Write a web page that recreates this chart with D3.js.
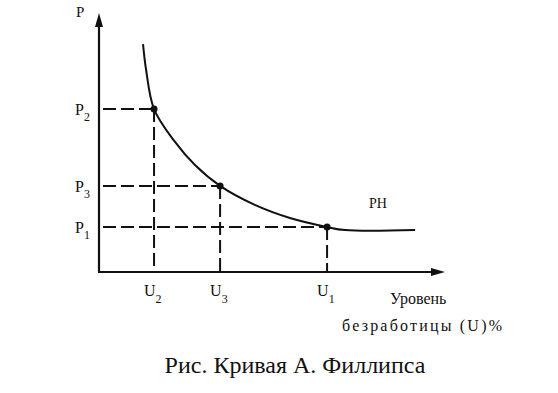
<!DOCTYPE html>
<html>
<head>
<meta charset="utf-8">
<script src="https://cdn.jsdelivr.net/npm/d3@7"></script>
<style>
  body { margin: 0; background: #fff; }
  text { font-family: "Liberation Serif", "DejaVu Serif", serif; fill: #111; }
</style>
</head>
<body>
<svg id="chart"></svg>
<script>
// Phillips curve, values in axis units (0..10)
var curveU = [1.28, 1.37, 1.6, 2.21, 2.79, 3.52, 4.53, 5.55, 6.63, 7.15, 9.19];
var curveP = [8.87, 7.86, 6.34, 5.06, 4.16, 3.35, 2.61, 2.1, 1.75, 1.63, 1.63];

// marked points: U2/P2, U3/P3, U1/P1
var pointNames = ["2", "3", "1"];
var pointU = [1.6, 3.52, 6.63];
var pointP = [6.34, 3.35, 1.75];

var svgWidth = 558, svgHeight = 393;
var svg = d3.select("#chart")
    .attr("width", svgWidth)
    .attr("height", svgHeight);

var x = d3.scaleLinear().domain([0, 10]).range([99, 443]);
var y = d3.scaleLinear().domain([0, 10]).range([272, 15]);

var g = svg.append("g");

// axes
g.append("line")
    .attr("x1", x(0)).attr("y1", y(0))
    .attr("x2", x(0)).attr("y2", y(10) + 6)
    .attr("stroke", "#111").attr("stroke-width", 2.2);
g.append("path")
    .attr("d", "M" + x(0) + "," + (y(10) - 2) + "l-4,14l8,0z")
    .attr("fill", "#111");

g.append("line")
    .attr("x1", x(0) - 1).attr("y1", y(0))
    .attr("x2", x(10) - 6).attr("y2", y(0))
    .attr("stroke", "#111").attr("stroke-width", 2.2);
g.append("path")
    .attr("d", "M" + (x(10) + 2) + "," + y(0) + "l-14,-4l0,8z")
    .attr("fill", "#111");

// dashed guides
var pts = pointU.map(function(u, i) { return { u: u, p: pointP[i], n: pointNames[i] }; });

g.selectAll(".hguide").data(pts).enter().append("line")
    .attr("x1", x(0)).attr("y1", function(d) { return y(d.p); })
    .attr("x2", function(d) { return x(d.u); }).attr("y2", function(d) { return y(d.p); })
    .attr("stroke", "#111").attr("stroke-width", 2)
    .attr("stroke-dasharray", "13,5")
    .attr("stroke-dashoffset", -4);

g.selectAll(".vguide").data(pts).enter().append("line")
    .attr("x1", function(d) { return x(d.u); }).attr("y1", function(d) { return y(d.p); })
    .attr("x2", function(d) { return x(d.u); }).attr("y2", y(0))
    .attr("stroke", "#111").attr("stroke-width", 2)
    .attr("stroke-dasharray", "13,5");

// curve
var line = d3.line()
    .x(function(d) { return x(d[0]); })
    .y(function(d) { return y(d[1]); })
    .curve(d3.curveCatmullRom);

g.append("path")
    .datum(curveU.map(function(u, i) { return [u, curveP[i]]; }))
    .attr("fill", "none")
    .attr("stroke", "#111")
    .attr("stroke-width", 2)
    .attr("d", line);

g.selectAll(".dot").data(pts).enter().append("circle")
    .attr("cx", function(d) { return x(d.u); })
    .attr("cy", function(d) { return y(d.p); })
    .attr("r", 3.5)
    .attr("fill", "#111");

// labels
g.append("text")
    .attr("x", 76).attr("y", 17)
    .style("font-size", "15px")
    .text("P");

var pl = g.selectAll(".plab").data(pts).enter().append("text")
    .attr("x", 75)
    .attr("y", function(d) { return y(d.p) + 6; })
    .style("font-size", "16px");
pl.append("tspan").text("P");
pl.append("tspan").attr("dy", 6).style("font-size", "12px").text(function(d) { return d.n; });

var ul = g.selectAll(".ulab").data(pts).enter().append("text")
    .attr("x", function(d) { return x(d.u) - 10; })
    .attr("y", 296)
    .style("font-size", "16px");
ul.append("tspan").text("U");
ul.append("tspan").attr("dy", 7).style("font-size", "12px").text(function(d) { return d.n; });

g.append("text")
    .attr("x", 369).attr("y", 208)
    .style("font-size", "14px")
    .text("PH");

g.append("text")
    .attr("x", 390).attr("y", 304)
    .style("font-size", "16px")
    .text("Уровень");

g.append("text")
    .attr("x", 342).attr("y", 331)
    .style("font-size", "16px")
    .style("letter-spacing", "2.2px")
    .text("безработицы (U)%");

svg.append("text")
    .attr("x", 295).attr("y", 373)
    .attr("text-anchor", "middle")
    .style("font-size", "24px")
    .text("Рис. Кривая А. Филлипса");
</script>
</body>
</html>
